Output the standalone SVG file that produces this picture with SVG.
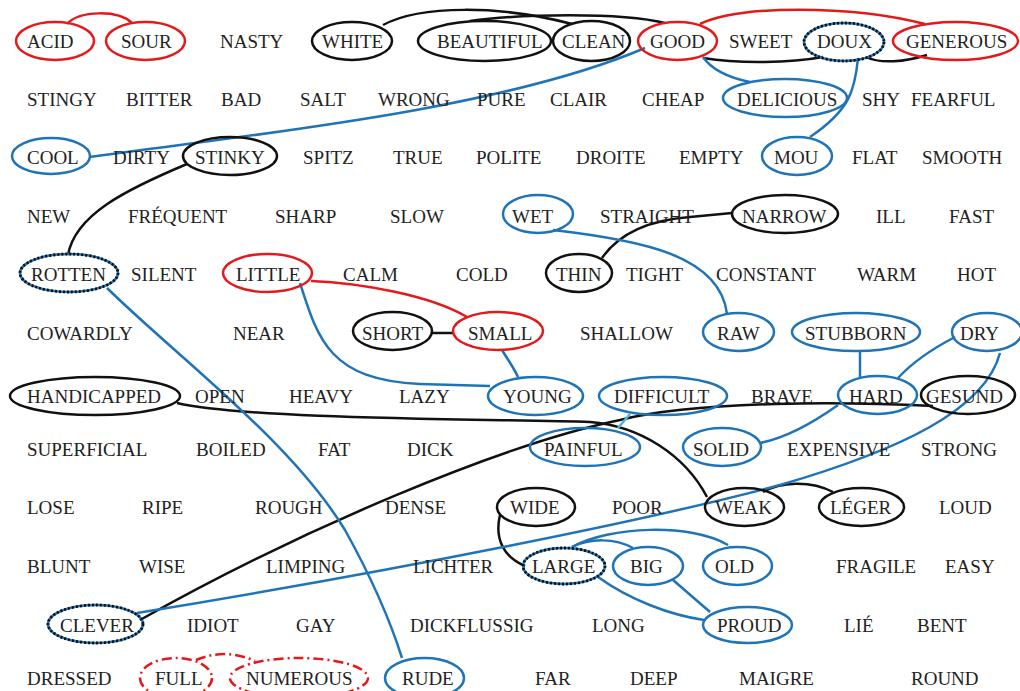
<svg xmlns="http://www.w3.org/2000/svg" width="1020" height="691" viewBox="0 0 1020 691">
<style>
text{font-family:"Liberation Serif","Times New Roman",serif;font-size:19px;fill:#222}
.r{fill:none;stroke:#e3191c;stroke-width:2.5}
.b{fill:none;stroke:#1f74b8;stroke-width:2.5}
.k{fill:none;stroke:#111;stroke-width:2.5}
.d{fill:none;stroke:#111;stroke-width:2.8;stroke-dasharray:2 2}
.rd{fill:none;stroke:#e3191c;stroke-width:2.5;stroke-dasharray:10 4 2 4}
.lb{fill:none;stroke:#4db3e6;stroke-width:2.5}
</style>
<rect width="1020" height="691" fill="#fff"/>
<g id="connectors">
<path class="r" d="M67,24 C80,10 118,10 132,23"/>
<path class="r" d="M700,24 C740,5 850,5 925,24"/>
<path class="r" d="M311,281 C360,283 430,295 467,317"/>
<path class="k" d="M383,25 C420,5 500,5 572,24"/>
<path class="k" d="M470,21 C520,14 620,12 665,23"/>
<path class="k" d="M703,58 C740,64 790,63 823,57"/>
<path class="k" d="M866,57 C880,64 905,62 927,55"/>
<path class="k" d="M187,164 C125,190 75,215 68,255"/>
<path class="k" d="M602,258 C620,232 650,220 690,217 L732,213"/>
<path class="k" d="M432,333 L453,333"/>
<path class="k" d="M177,403 C250,420 500,419 590,422 C640,426 685,455 707,497"/>
<path class="k" d="M933,406 C850,402 700,400 620,420 C500,445 300,530 140,620"/>
<path class="k" d="M763,492 C780,482 810,480 833,492"/>
<path class="k" d="M500,515 C494,540 505,558 525,566"/>
<path class="b" d="M645,48 C500,110 250,135 89,157"/>
<path class="b" d="M703,57 C712,70 730,78 750,82"/>
<path class="b" d="M858,58 C855,90 850,110 810,137"/>
<path class="b" d="M553,230 C640,240 720,255 727,314"/>
<path class="b" d="M300,283 C318,340 330,380 420,384 L490,386"/>
<path class="b" d="M502,350 C508,360 514,368 518,377"/>
<path class="b" d="M860,352 L860,377"/>
<path class="b" d="M955,337 C930,350 910,365 898,378"/>
<path class="b" d="M838,405 C810,425 785,438 760,443"/>
<path class="b" d="M1000,353 C985,410 900,450 780,485 C650,520 400,570 137,613"/>
<path class="b" d="M107,288 C175,355 290,440 345,530 C370,575 390,620 402,658"/>
<path class="lb" d="M630,414 L618,428"/>
<path class="b" d="M572,547 C590,538 615,538 633,548"/>
<path class="b" d="M572,547 C610,526 690,523 728,545"/>
<path class="b" d="M598,577 C630,600 670,615 704,620"/>
<path class="b" d="M673,580 L710,612"/>
<path class="rd" d="M196,660 C215,652 235,652 255,661"/>
</g>
<g id="n-acid"><ellipse class="r" cx="55" cy="41" rx="39" ry="19"/><text x="27" y="47.5">ACID</text></g>
<g id="n-sour"><ellipse class="r" cx="145.5" cy="41" rx="39.5" ry="19"/><text x="121" y="47.5">SOUR</text></g>
<g id="n-nasty"><text x="220" y="47.5">NASTY</text></g>
<g id="n-white"><ellipse class="k" cx="352" cy="41" rx="40" ry="19"/><text x="322" y="47.5">WHITE</text></g>
<g id="n-beautiful"><ellipse class="k" cx="484.5" cy="41" rx="66.5" ry="20"/><text x="437" y="47.5">BEAUTIFUL</text></g>
<g id="n-clean"><ellipse class="k" cx="591.5" cy="41" rx="38.5" ry="20"/><text x="562" y="47.5">CLEAN</text></g>
<g id="n-good"><ellipse class="r" cx="677.5" cy="41" rx="39.5" ry="19"/><text x="650" y="47.5">GOOD</text></g>
<g id="n-sweet"><text x="729" y="47.5">SWEET</text></g>
<g id="n-doux"><ellipse class="b" cx="844" cy="42" rx="40" ry="19"/><ellipse class="d" cx="844" cy="42" rx="40" ry="19"/><text x="817" y="47.5">DOUX</text></g>
<g id="n-generous"><ellipse class="r" cx="955.5" cy="41" rx="62.5" ry="19"/><text x="906" y="47.5">GENEROUS</text></g>

<g id="n-stingy"><text x="27" y="105.5">STINGY</text></g>
<g id="n-bitter"><text x="126" y="105.5">BITTER</text></g>
<g id="n-bad"><text x="221" y="105.5">BAD</text></g>
<g id="n-salt"><text x="300" y="105.5">SALT</text></g>
<g id="n-wrong"><text x="378" y="105.5">WRONG</text></g>
<g id="n-pure"><text x="477" y="105.5">PURE</text></g>
<g id="n-clair"><text x="550" y="105.5">CLAIR</text></g>
<g id="n-cheap"><text x="642" y="105.5">CHEAP</text></g>
<g id="n-delicious"><ellipse class="b" cx="785" cy="98" rx="62" ry="19"/><text x="737" y="105.5">DELICIOUS</text></g>
<g id="n-shy"><text x="862" y="105.5">SHY</text></g>
<g id="n-fearful"><text x="911" y="105.5">FEARFUL</text></g>

<g id="n-cool"><ellipse class="b" cx="51" cy="156" rx="39" ry="18"/><text x="27" y="164">COOL</text></g>
<g id="n-dirty"><text x="113" y="164">DIRTY</text></g>
<g id="n-stinky"><ellipse class="k" cx="230" cy="156" rx="47" ry="19"/><text x="195" y="164">STINKY</text></g>
<g id="n-spitz"><text x="303" y="164">SPITZ</text></g>
<g id="n-true"><text x="393" y="164">TRUE</text></g>
<g id="n-polite"><text x="476" y="164">POLITE</text></g>
<g id="n-droite"><text x="576" y="164">DROITE</text></g>
<g id="n-empty"><text x="679" y="164">EMPTY</text></g>
<g id="n-mou"><ellipse class="b" cx="797" cy="156" rx="35" ry="19"/><text x="774" y="164">MOU</text></g>
<g id="n-flat"><text x="852" y="164">FLAT</text></g>
<g id="n-smooth"><text x="922" y="164">SMOOTH</text></g>

<g id="n-new"><text x="27" y="222.5">NEW</text></g>
<g id="n-frequent"><text x="128" y="222.5">FRÉQUENT</text></g>
<g id="n-sharp"><text x="275" y="222.5">SHARP</text></g>
<g id="n-slow"><text x="390" y="222.5">SLOW</text></g>
<g id="n-wet"><ellipse class="b" cx="538" cy="214" rx="35" ry="19"/><text x="512" y="222.5">WET</text></g>
<g id="n-straight"><text x="600" y="222.5">STRAIGHT</text></g>
<g id="n-narrow"><ellipse class="k" cx="785" cy="214" rx="53" ry="19"/><text x="742" y="222.5">NARROW</text></g>
<g id="n-ill"><text x="876" y="222.5">ILL</text></g>
<g id="n-fast"><text x="949" y="222.5">FAST</text></g>

<g id="n-rotten"><ellipse class="b" cx="69" cy="273" rx="49" ry="19"/><ellipse class="d" cx="69" cy="273" rx="49" ry="19"/><text x="31" y="281">ROTTEN</text></g>
<g id="n-silent"><text x="131" y="281">SILENT</text></g>
<g id="n-little"><ellipse class="r" cx="267.5" cy="273" rx="44.5" ry="19"/><text x="236" y="281">LITTLE</text></g>
<g id="n-calm"><text x="343" y="281">CALM</text></g>
<g id="n-cold"><text x="456" y="281">COLD</text></g>
<g id="n-thin"><ellipse class="k" cx="579" cy="273" rx="33" ry="19"/><text x="556" y="281">THIN</text></g>
<g id="n-tight"><text x="626" y="281">TIGHT</text></g>
<g id="n-constant"><text x="716" y="281">CONSTANT</text></g>
<g id="n-warm"><text x="857" y="281">WARM</text></g>
<g id="n-hot"><text x="957" y="281">HOT</text></g>

<g id="n-cowardly"><text x="27" y="339.5">COWARDLY</text></g>
<g id="n-near"><text x="233" y="339.5">NEAR</text></g>
<g id="n-short"><ellipse class="k" cx="392.5" cy="331" rx="39.5" ry="19"/><text x="362" y="339.5">SHORT</text></g>
<g id="n-small"><ellipse class="r" cx="498" cy="331" rx="45" ry="19"/><text x="468" y="339.5">SMALL</text></g>
<g id="n-shallow"><text x="580" y="339.5">SHALLOW</text></g>
<g id="n-raw"><ellipse class="b" cx="738.5" cy="332" rx="35.5" ry="19"/><text x="717" y="339.5">RAW</text></g>
<g id="n-stubborn"><ellipse class="b" cx="856" cy="332" rx="64" ry="19"/><text x="805" y="339.5">STUBBORN</text></g>
<g id="n-dry"><ellipse class="b" cx="987" cy="332" rx="35" ry="19"/><text x="960" y="339.5">DRY</text></g>

<g id="n-handicapped"><ellipse class="k" cx="95" cy="396" rx="85" ry="19"/><text x="27" y="402.5">HANDICAPPED</text></g>
<g id="n-open"><text x="195" y="402.5">OPEN</text></g>
<g id="n-heavy"><text x="289" y="402.5">HEAVY</text></g>
<g id="n-lazy"><text x="399" y="402.5">LAZY</text></g>
<g id="n-young"><ellipse class="b" cx="535.5" cy="396" rx="47.5" ry="19"/><text x="503" y="402.5">YOUNG</text></g>
<g id="n-difficult"><ellipse class="b" cx="663" cy="396" rx="64" ry="19"/><text x="614" y="402.5">DIFFICULT</text></g>
<g id="n-brave"><text x="751" y="402.5">BRAVE</text></g>
<g id="n-hard"><ellipse class="b" cx="877.5" cy="395" rx="39.5" ry="19"/><text x="849" y="402.5">HARD</text></g>
<g id="n-gesund"><ellipse class="k" cx="968" cy="395" rx="47" ry="19"/><text x="926" y="402.5">GESUND</text></g>

<g id="n-superficial"><text x="27" y="455.5">SUPERFICIAL</text></g>
<g id="n-boiled"><text x="196" y="455.5">BOILED</text></g>
<g id="n-fat"><text x="318" y="455.5">FAT</text></g>
<g id="n-dick"><text x="407" y="455.5">DICK</text></g>
<g id="n-painful"><ellipse class="b" cx="585" cy="447" rx="55" ry="19"/><text x="544" y="455.5">PAINFUL</text></g>
<g id="n-solid"><ellipse class="b" cx="722" cy="447" rx="39" ry="19"/><text x="693" y="455.5">SOLID</text></g>
<g id="n-expensive"><text x="787" y="455.5">EXPENSIVE</text></g>
<g id="n-strong"><text x="921" y="455.5">STRONG</text></g>

<g id="n-lose"><text x="27" y="514">LOSE</text></g>
<g id="n-ripe"><text x="142" y="514">RIPE</text></g>
<g id="n-rough"><text x="255" y="514">ROUGH</text></g>
<g id="n-dense"><text x="385" y="514">DENSE</text></g>
<g id="n-wide"><ellipse class="k" cx="536" cy="507" rx="39" ry="19"/><text x="510" y="514">WIDE</text></g>
<g id="n-poor"><text x="612" y="514">POOR</text></g>
<g id="n-weak"><ellipse class="k" cx="744.5" cy="507" rx="39.5" ry="19"/><text x="715" y="514">WEAK</text></g>
<g id="n-leger"><ellipse class="k" cx="861.5" cy="507" rx="42.5" ry="19"/><text x="830" y="514">LÉGER</text></g>
<g id="n-loud"><text x="939" y="514">LOUD</text></g>

<g id="n-blunt"><text x="27" y="573">BLUNT</text></g>
<g id="n-wise"><text x="139" y="573">WISE</text></g>
<g id="n-limping"><text x="266" y="573">LIMPING</text></g>
<g id="n-lichter"><text x="413" y="573">LICHTER</text></g>
<g id="n-large"><ellipse class="b" cx="564" cy="566" rx="41" ry="18"/><ellipse class="d" cx="564" cy="566" rx="41" ry="18"/><text x="532" y="573">LARGE</text></g>
<g id="n-big"><ellipse class="b" cx="648" cy="566" rx="35" ry="19"/><text x="630" y="573">BIG</text></g>
<g id="n-old"><ellipse class="b" cx="737.5" cy="566" rx="34.5" ry="19"/><text x="715" y="573">OLD</text></g>
<g id="n-fragile"><text x="836" y="573">FRAGILE</text></g>
<g id="n-easy"><text x="945" y="573">EASY</text></g>

<g id="n-clever"><ellipse class="b" cx="95.5" cy="624" rx="47.5" ry="19"/><ellipse class="d" cx="95.5" cy="624" rx="47.5" ry="19"/><text x="60" y="631.5">CLEVER</text></g>
<g id="n-idiot"><text x="187" y="631.5">IDIOT</text></g>
<g id="n-gay"><text x="296" y="631.5">GAY</text></g>
<g id="n-dickflussig"><text x="410" y="631.5">DICKFLUSSIG</text></g>
<g id="n-long"><text x="592" y="631.5">LONG</text></g>
<g id="n-proud"><ellipse class="b" cx="747.5" cy="625" rx="44.5" ry="18"/><text x="717" y="631.5">PROUD</text></g>
<g id="n-lie"><text x="844" y="631.5">LIÉ</text></g>
<g id="n-bent"><text x="917" y="631.5">BENT</text></g>

<g id="n-dressed"><text x="27" y="685">DRESSED</text></g>
<g id="n-full"><ellipse class="rd" cx="176" cy="678" rx="36" ry="20"/><text x="155" y="685">FULL</text></g>
<g id="n-numerous"><ellipse class="rd" cx="299" cy="678" rx="69" ry="20"/><text x="246" y="685">NUMEROUS</text></g>
<g id="n-rude"><ellipse class="b" cx="424.5" cy="678" rx="39.5" ry="20"/><text x="402" y="685">RUDE</text></g>
<g id="n-far"><text x="535" y="685">FAR</text></g>
<g id="n-deep"><text x="630" y="685">DEEP</text></g>
<g id="n-maigre"><text x="739" y="685">MAIGRE</text></g>
<g id="n-round"><text x="911" y="685">ROUND</text></g>
</svg>
